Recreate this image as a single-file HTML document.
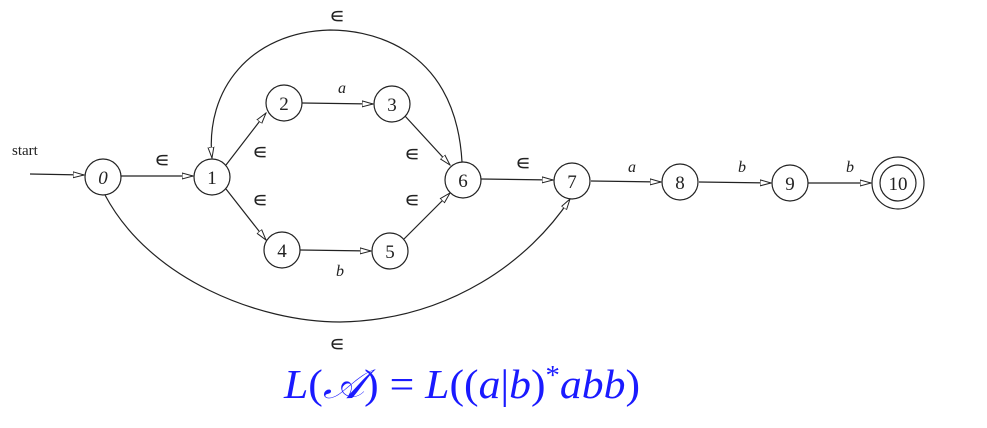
<!DOCTYPE html>
<html><head><meta charset="utf-8"><style>
body{margin:0;background:#fff;width:987px;height:428px;overflow:hidden}
svg{position:absolute;left:0;top:0}
text{font-family:"Liberation Serif",serif}
</style></head><body>
<svg width="987" height="428" viewBox="0 0 987 428">
<defs><marker id="a" markerWidth="12" markerHeight="8" refX="11" refY="4" orient="auto" markerUnits="userSpaceOnUse"><path d="M0,1 L11,4 L0,7 Z" fill="#fff" stroke="#222" stroke-width="1"/></marker></defs>
<g stroke="#222" stroke-width="1.2" fill="none">
<line x1="30" y1="174" x2="84" y2="175" marker-end="url(#a)"/>
<line x1="121" y1="176" x2="193" y2="176" marker-end="url(#a)"/>
<line x1="226" y1="165" x2="266" y2="113" marker-end="url(#a)"/>
<line x1="226" y1="189" x2="266" y2="240" marker-end="url(#a)"/>
<line x1="302" y1="103" x2="373" y2="104" marker-end="url(#a)"/>
<line x1="300" y1="250" x2="371" y2="251" marker-end="url(#a)"/>
<line x1="405" y1="116" x2="450" y2="165" marker-end="url(#a)"/>
<line x1="404" y1="239" x2="450" y2="193" marker-end="url(#a)"/>
<line x1="481" y1="179" x2="553" y2="180" marker-end="url(#a)"/>
<line x1="591" y1="181" x2="661" y2="182" marker-end="url(#a)"/>
<line x1="699" y1="182" x2="771" y2="183" marker-end="url(#a)"/>
<line x1="808" y1="183" x2="871" y2="183" marker-end="url(#a)"/>
<path d="M462,162 C455,40 360,30 330,30 C250,32 205,90 212,158" marker-end="url(#a)"/>
<path d="M105,195 C150,280 260,322 340,322 C450,320 530,260 570,199" marker-end="url(#a)"/>
<g fill="#fff">
<circle cx="103" cy="177" r="18"/><circle cx="212" cy="177" r="18"/>
<circle cx="284" cy="103" r="18"/><circle cx="392" cy="104" r="18"/>
<circle cx="282" cy="250" r="18"/><circle cx="390" cy="251" r="18"/>
<circle cx="463" cy="180" r="18"/><circle cx="572" cy="181" r="18"/>
<circle cx="680" cy="182" r="18"/><circle cx="790" cy="183" r="18"/>
<circle cx="898" cy="183" r="26"/><circle cx="898" cy="183" r="18"/>
</g></g>
<g font-size="19" text-anchor="middle" fill="#222">
<text x="103" y="184" font-style="italic">0</text><text x="212" y="184">1</text>
<text x="284" y="110">2</text><text x="392" y="111">3</text>
<text x="282" y="257">4</text><text x="390" y="258">5</text>
<text x="463" y="187">6</text><text x="572" y="188">7</text>
<text x="680" y="189">8</text><text x="790" y="190">9</text>
<text x="898" y="190">10</text>
</g>
<g font-size="22" text-anchor="middle" fill="#222" font-family="DejaVu Sans">
<text x="162" y="167" font-family="DejaVu Sans">∊</text><text x="260" y="159" font-family="DejaVu Sans">∊</text><text x="260" y="207" font-family="DejaVu Sans">∊</text>
<text x="412" y="161" font-family="DejaVu Sans">∊</text><text x="412" y="207" font-family="DejaVu Sans">∊</text><text x="523" y="170" font-family="DejaVu Sans">∊</text>
<text x="337" y="23" font-family="DejaVu Sans">∊</text><text x="337" y="351" font-family="DejaVu Sans">∊</text>
</g>
<g font-size="16" font-style="italic" text-anchor="middle" fill="#222">
<text x="342" y="93">a</text><text x="340" y="276">b</text>
<text x="632" y="172">a</text><text x="742" y="172">b</text><text x="850" y="172">b</text>
</g>
<text x="12" y="155" font-size="15" fill="#222">start</text>
<text x="284" y="398" font-size="41" textLength="356" lengthAdjust="spacingAndGlyphs" fill="#1a1aff"><tspan font-style="italic">L</tspan>(<tspan font-style="italic">𝒜</tspan>) = <tspan font-style="italic">L</tspan>((<tspan font-style="italic">a</tspan>|<tspan font-style="italic">b</tspan>)<tspan dy="-14" font-size="27">*</tspan><tspan dy="14" font-style="italic">abb</tspan>)</text>
</svg>
</body></html>
